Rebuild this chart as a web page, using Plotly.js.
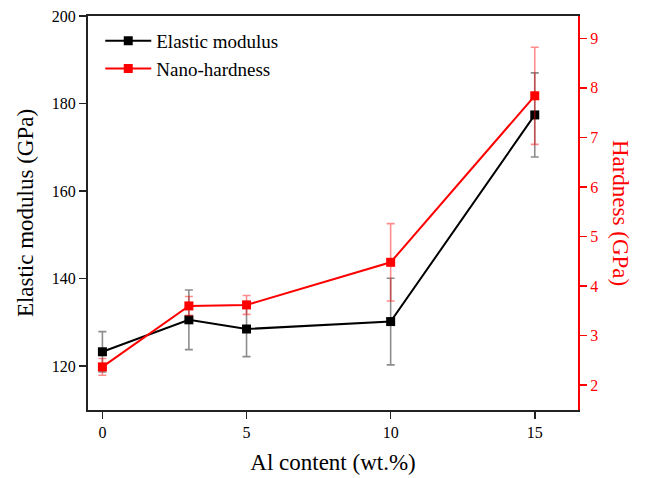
<!DOCTYPE html>
<html>
<head>
<meta charset="utf-8">
<script src="https://cdn.plot.ly/plotly-3.0.1.min.js"></script>
<style>
  html, body { margin: 0; padding: 0; background: #fff; }
  #chart { width: 647px; height: 478px; }
</style>
</head>
<body>
<div id="chart"></div>
<script>
// Al content of the coatings (wt.%)
const alContent = [0, 3, 5, 10, 15];

// Elastic modulus (GPa) and its standard deviation
const modulus = [123.3, 130.6, 128.5, 130.2, 177.4];
const modulusErr = [4.6, 6.8, 6.3, 9.9, 9.6];

// Nano-hardness (GPa) and its standard deviation
const hardness = [2.37, 3.6, 3.62, 4.48, 7.84];
const hardnessErr = [0.17, 0.19, 0.19, 0.78, 0.98];

const xTicks = [0, 5, 10, 15];
const leftTicks = [120, 140, 160, 180, 200];
const rightTicks = [2, 3, 4, 5, 6, 7, 8, 9];

const serif = "Liberation Serif, Times New Roman, serif";

const traces = [
  {
    name: "Elastic modulus",
    x: alContent,
    y: modulus,
    type: "scatter",
    mode: "lines+markers",
    line: { color: "#000000", width: 2 },
    marker: { symbol: "square", size: 9, color: "#000000" },
    error_y: { type: "data", array: modulusErr, visible: true,
               color: "rgba(0,0,0,0.45)", thickness: 1.6, width: 4 },
    yaxis: "y"
  },
  {
    name: "Nano-hardness",
    x: alContent,
    y: hardness,
    type: "scatter",
    mode: "lines+markers",
    line: { color: "#ff0000", width: 2 },
    marker: { symbol: "square", size: 9, color: "#ff0000" },
    error_y: { type: "data", array: hardnessErr, visible: true,
               color: "rgba(255,0,0,0.45)", thickness: 1.6, width: 4 },
    yaxis: "y2"
  }
];

const layout = {
  width: 647,
  height: 478,
  margin: { l: 88, r: 69, t: 16, b: 68 },
  paper_bgcolor: "#ffffff",
  plot_bgcolor: "#ffffff",
  font: { family: serif, color: "#000000", size: 16 },
  showlegend: true,
  legend: {
    x: 0.025, y: 0.985, xanchor: "left", yanchor: "top",
    bgcolor: "rgba(0,0,0,0)",
    itemwidth: 46,
    font: { family: serif, size: 19, color: "#000000" },
    tracegroupgap: 0
  },
  xaxis: {
    range: [-0.5, 16.5],
    tickvals: xTicks,
    ticktext: xTicks.map(String),
    ticks: "outside", ticklen: 7, tickwidth: 1.5, tickcolor: "#222",
    showline: true, linecolor: "#222", linewidth: 2,
    mirror: true,
    showgrid: false, zeroline: false,
    tickfont: { family: serif, size: 16, color: "#000" },
    title: { text: "Al content (wt.%)", font: { family: serif, size: 23, color: "#000" }, standoff: 14 }
  },
  yaxis: {
    range: [110, 200],
    tickvals: leftTicks,
    ticktext: leftTicks.map(String),
    ticks: "outside", ticklen: 7, tickwidth: 1.5, tickcolor: "#222",
    showline: true, linecolor: "#222", linewidth: 2,
    showgrid: false, zeroline: false,
    tickfont: { family: serif, size: 16, color: "#000" },
    title: { text: "Elastic modulus (GPa)", font: { family: serif, size: 23, color: "#000" }, standoff: 12 }
  },
  yaxis2: {
    overlaying: "y",
    side: "right",
    range: [1.5, 9.45],
    tickvals: rightTicks,
    ticktext: rightTicks.map(String),
    ticks: "outside", ticklen: 7, tickwidth: 1.5, tickcolor: "#ff0000",
    showline: true, linecolor: "#ff0000", linewidth: 2,
    showgrid: false, zeroline: false,
    tickfont: { family: serif, size: 16, color: "#ff0000" }
  },
  annotations: [
    {
      text: "Hardness (GPa)",
      xref: "paper", yref: "paper",
      x: 1.088, y: 0.5,
      xanchor: "center", yanchor: "middle",
      textangle: 90,
      showarrow: false,
      font: { family: serif, size: 23, color: "#ff0000" }
    }
  ]
};

Plotly.newPlot("chart", traces, layout, { displayModeBar: false, staticPlot: true });
</script>
</body>
</html>
